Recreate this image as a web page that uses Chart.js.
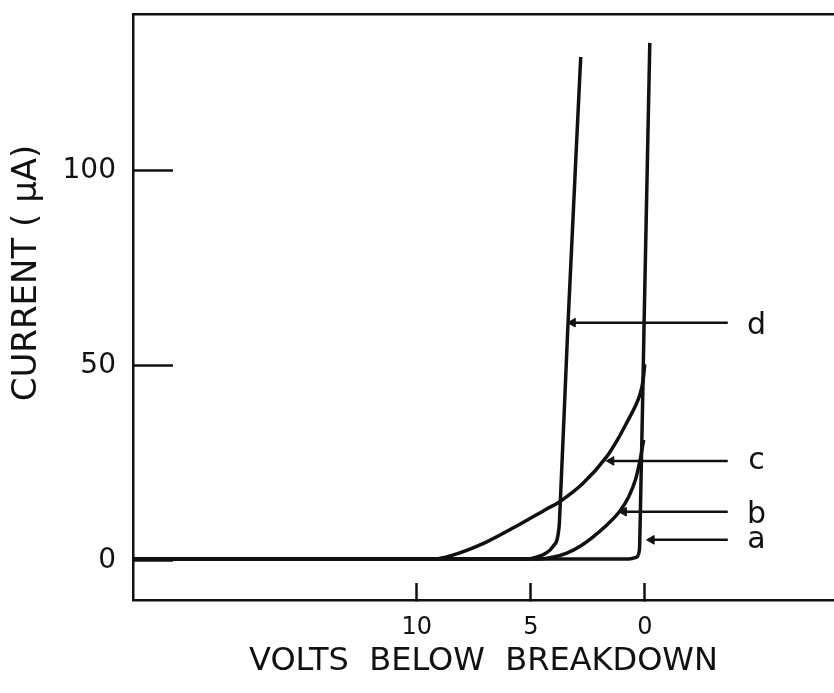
<!DOCTYPE html>
<html>
<head>
<meta charset="utf-8">
<script src="https://cdn.jsdelivr.net/npm/chart.js@4.4.1/dist/chart.umd.min.js"></script>
<style>
html, body { margin: 0; padding: 0; background: #fff; }
#wrap { width: 834px; height: 693px; position: relative; }
</style>
</head>
<body>
<div id="wrap"><canvas id="chart"></canvas></div>
<script>
// volts below breakdown (x) and current in uA (y)
var voltsA = [22.45, 0.7, 0.38, 0.24, 0.22, 0.03, -0.22];
var currentA = [0.5, 0.5, 0.9, 2.6, 5, 61, 132.6];

var voltsB = [22.45, 4.6, 4.0, 3.42, 2.8, 2.28, 1.7, 1.1, 0.7, 0.4, 0.2, 0.05];
var currentB = [0.5, 0.5, 1.0, 2.0, 3.9, 6.1, 9.0, 12.7, 16.5, 21, 26, 31];

var voltsC = [22.45, 9.2, 8.42, 6.93, 5.48, 4.3, 3.75, 2.72, 1.67, 1.2, 0.79, 0.45, 0.22, 0.08, 0.0];
var currentC = [0.5, 0.5, 1.5, 4.9, 9.4, 13.3, 15.1, 19.8, 26.7, 31, 35.4, 39.2, 42.5, 46, 50.3];

var voltsD = [22.45, 5.1, 4.74, 4.4, 4.04, 3.76, 3.72, 3.38, 2.81];
var currentD = [0.5, 0.5, 1.0, 1.8, 3.6, 8.7, 13.1, 59.2, 129];

// pointer arrows: label, current level, where the arrow tip meets its curve
var curveNames = ['d', 'c', 'b', 'a'];
var arrowCurrent = [61, 25.6, 12.6, 5.4];
var arrowTipVolts = [3.36, 1.67, 1.12, -0.1];
var arrowTailVolts = -3.64;
var labelVolts = -4.9;

var xTicks = [10, 5, 0];
var yTicks = [0, 50, 100];

var ink = '#111';

function pts(xs, ys) {
    return xs.map(function(v, i) { return {x: v, y: ys[i]}; });
}

function curve(xs, ys) {
    return {
        data: pts(xs, ys),
        borderColor: ink,
        borderWidth: 3.5,
        pointRadius: 0,
        cubicInterpolationMode: 'monotone',
        fill: false
    };
}

var datasets = [
    curve(voltsA, currentA),
    curve(voltsB, currentB),
    curve(voltsC, currentC),
    curve(voltsD, currentD)
];

curveNames.forEach(function(n, i) {
    datasets.push({
        data: [{x: arrowTailVolts, y: arrowCurrent[i]}, {x: arrowTipVolts[i] - 0.2, y: arrowCurrent[i]}],
        borderColor: ink,
        borderWidth: 2.5,
        pointRadius: [0, 5],
        pointStyle: 'triangle',
        pointRotation: 270,
        pointBackgroundColor: ink,
        pointBorderColor: ink,
        pointBorderWidth: 1
    });
});

var curveLabels = {
    id: 'curveLabels',
    afterDatasetsDraw: function(chart) {
        var ctx = chart.ctx, xs = chart.scales.x, ys = chart.scales.y;
        ctx.save();
        ctx.fillStyle = ink;
        ctx.font = '30px "DejaVu Sans"';
        ctx.textAlign = 'center';
        ctx.textBaseline = 'alphabetic';
        curveNames.forEach(function(n, i) {
            var off = (n === 'b' || n === 'd') ? 0.37 : 0.27;
            ctx.fillText(n, xs.getPixelForValue(labelVolts), ys.getPixelForValue(arrowCurrent[i]) + off * 30);
        });
        // y axis title
        ctx.translate(27, 273);
        ctx.rotate(-Math.PI / 2);
        ctx.font = '34px "DejaVu Sans"';
        ctx.textBaseline = 'middle';
        ctx.fillText('CURRENT ( \u03BCA)', 0, 0);
        ctx.restore();
    }
};

new Chart(document.getElementById('chart'), {
    type: 'line',
    data: {datasets: datasets},
    options: {
        responsive: true,
        maintainAspectRatio: false,
        animation: false,
        layout: {padding: 0, autoPadding: false},
        plugins: {legend: {display: false}, tooltip: {enabled: false}},
        scales: {
            x: {
                type: 'linear',
                reverse: true,
                min: -8.3,
                max: 22.45,
                afterBuildTicks: function(s) { s.ticks = xTicks.map(function(v) { return {value: v}; }); },
                afterFit: function(s) { s.height = 93; s.paddingLeft = 0; s.paddingRight = 0; },
                grid: {drawOnChartArea: false, tickLength: -17, tickWidth: 2.5, tickColor: ink},
                border: {color: ink, width: 2.5},
                ticks: {color: ink, padding: 30, font: {family: 'DejaVu Sans', size: 24}},
                title: {
                    display: true,
                    text: 'VOLTS  BELOW  BREAKDOWN',
                    color: ink,
                    font: {family: 'DejaVu Sans', size: 32},
                    padding: {top: 0, bottom: 12}
                }
            },
            x2: {
                type: 'linear',
                position: 'top',
                reverse: true,
                min: -8.3,
                max: 22.45,
                afterFit: function(s) { s.height = 14; s.paddingLeft = 0; s.paddingRight = 0; },
                grid: {drawOnChartArea: false, drawTicks: false},
                border: {color: ink, width: 2.5},
                ticks: {display: false}
            },
            y: {
                type: 'linear',
                min: -10,
                max: 140,
                afterBuildTicks: function(s) { s.ticks = yTicks.map(function(v) { return {value: v}; }); },
                afterFit: function(s) { s.width = 133; s.paddingTop = 0; s.paddingBottom = 0; },
                grid: {drawOnChartArea: false, tickLength: -40, tickWidth: 2.5, tickColor: ink},
                border: {color: ink, width: 2.5},
                ticks: {color: ink, padding: 57, font: {family: 'DejaVu Sans', size: 28}}
            }
        }
    },
    plugins: [curveLabels]
});
</script>
</body>
</html>
